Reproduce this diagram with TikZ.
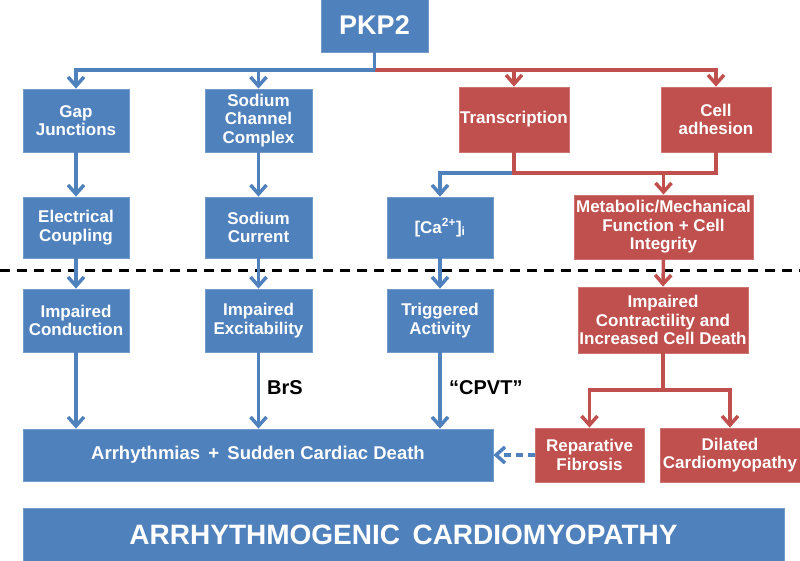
\documentclass[tikz,border=0pt]{standalone}
\usepackage{fontspec}
\setmainfont{Liberation Sans}
\usetikzlibrary{arrows.meta}
\definecolor{bblue}{HTML}{4F81BD}
\definecolor{rred}{HTML}{C0504D}
\tikzset{
  box/.style={rectangle, draw=#1!80!white, line width=0.8pt, fill=#1, text=white, align=center, inner sep=0pt,
    font=\bfseries\fontsize{17}{18.5}\selectfont},
  bl/.style={draw=bblue, line width=3.5pt},
  rd/.style={draw=rred, line width=3.5pt},
  arr/.style={-{Straight Barb[length=9pt,width=16pt,line width=3.5pt]}},
  lbl/.style={font=\bfseries\fontsize{20}{22}\selectfont, text=black, inner sep=0pt},
  sep/.style={draw=black, line width=3pt, dash pattern=on 10pt off 7pt}
}
\begin{document}
\begin{tikzpicture}[x=1pt,y=-1pt]
\useasboundingbox (0,0) rectangle (800,560);
% boxes
\node[box=bblue, minimum width=107pt, minimum height=53pt, font=\bfseries\fontsize{27}{30}\selectfont] (pkp2) at (374.5,25.5) {PKP2};
\node[box=bblue, minimum width=106pt, minimum height=63pt] (gap) at (76,120.5) {Gap\\Junctions};
\node[box=bblue, minimum width=107pt, minimum height=63pt] (sod) at (258.5,120.5) {Sodium\\Channel\\Complex};
\node[box=rred, minimum width=110pt, minimum height=65pt] (trans) at (514,119.5) {Transcription};
\node[box=rred, minimum width=110pt, minimum height=65pt] (adh) at (716,119.5) {Cell\\adhesion};
\node[box=bblue, minimum width=106pt, minimum height=61pt] (elec) at (76,227.5) {Electrical\\Coupling};
\node[box=bblue, minimum width=107pt, minimum height=61pt] (cur) at (258.5,227.5) {Sodium\\Current};
\node[box=bblue, minimum width=106pt, minimum height=61pt] (ca) at (440,227.5) {[Ca\textsuperscript{2+}]\textsubscript{i}};
\node[box=rred, minimum width=179pt, minimum height=64pt] (meta) at (663.5,227) {Metabolic/Mechanical\\Function + Cell\\Integrity};
\node[box=bblue, minimum width=106pt, minimum height=63pt] (cond) at (76,320.5) {Impaired\\Conduction};
\node[box=bblue, minimum width=107pt, minimum height=63pt] (exc) at (258.5,320.5) {Impaired\\Excitability};
\node[box=bblue, minimum width=106pt, minimum height=63pt] (trig) at (440,320.5) {Triggered\\Activity};
\node[box=rred, minimum width=170pt, minimum height=66pt] (contr) at (663,320) {Impaired\\Contractility and\\Increased Cell Death};
\node[box=bblue, minimum width=470pt, minimum height=52pt, font=\bfseries\fontsize{18.5}{20}\selectfont] (arr) at (258,455) {Arrhythmias\, + \,Sudden Cardiac Death};
\node[box=rred, minimum width=109pt, minimum height=54pt] (rep) at (589.5,455) {Reparative\\Fibrosis};
\node[box=rred, minimum width=140pt, minimum height=54pt] (dil) at (730,455) {Dilated\\Cardiomyopathy};
\node[box=bblue, minimum width=761pt, minimum height=54pt, font=\bfseries\fontsize{28}{30}\selectfont] (ban) at (403.5,535) {ARRHYTHMOGENIC\, CARDIOMYOPATHY};
% labels
\node[lbl, anchor=west] (brs) at (267,388) {BrS};
\node[lbl, anchor=west] (cpvt) at (449,388) {“CPVT”};
% separator
\coordinate (sl) at (0,270);
\coordinate (sr) at (800,270);
\draw[sep] (sl) -- (sr);
% top distribution
\coordinate (hub) at (374.5,70);
\draw[bl, arr] (hub) -| (gap.north);
\draw[bl, arr] (hub) -| (sod.north);
\draw[rd, arr] (hub) -| (trans.north);
\draw[rd, arr] (hub) -| (adh.north);
\draw[bl] (pkp2.south) -- (hub);
% transcription / adhesion junction
\coordinate (tj) at (514,173);
\draw[bl, arr] (tj) -| (ca.north);
\draw[rd] (trans.south) -- (tj) -| (adh.south);
\coordinate (mj) at (663.5,173);
\draw[rd, arr] (mj) -- (meta.north);
% columns
\draw[bl, arr] (gap) -- (elec);
\draw[bl, arr] (sod) -- (cur);
\draw[bl, arr] (elec) -- (cond);
\draw[bl, arr] (cur) -- (exc);
\draw[bl, arr] (ca) -- (trig);
\draw[rd, arr] (meta.south) -- (contr.north);
\draw[bl, arr] (cond.south) -- (cond.south |- arr.north);
\draw[bl, arr] (exc.south) -- (exc.south |- arr.north);
\draw[bl, arr] (trig.south) -- (trig.south |- arr.north);
% contractility split
\coordinate (cj) at (663,390);
\draw[rd] (contr.south) -- (cj);
\draw[rd, arr] (cj) -| (rep.north);
\draw[rd, arr] (cj) -| (dil.north);
% dashed feedback
\draw[bl, arr, dash pattern=on 7pt off 5pt] (rep.west) -- (arr.east);
\end{tikzpicture}
\end{document}
